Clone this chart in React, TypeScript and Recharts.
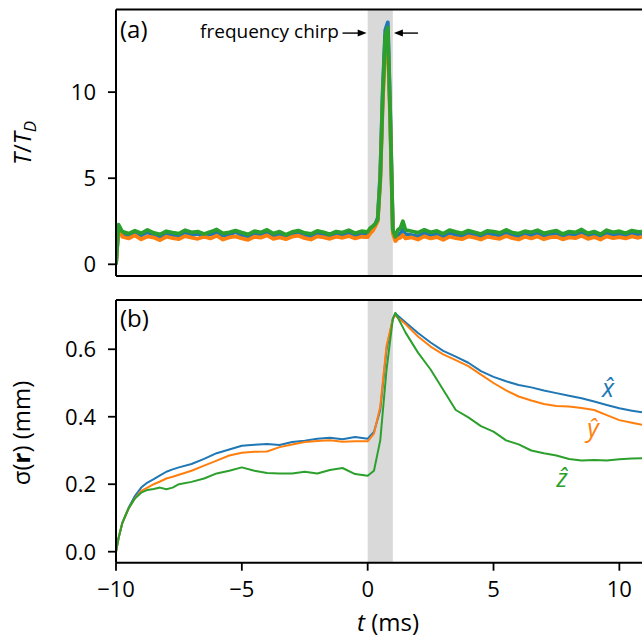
import { LineChart, Line, XAxis, YAxis, ReferenceArea, ReferenceLine } from 'recharts';

// panel (a): temperature ratio, sampled times (ms)
const tTop = [
  -10, -9.9, -9.75, -9.5, -9.25, -9, -8.75, -8.5, -8.25, -8,
  -7.75, -7.5, -7.25, -7, -6.75, -6.5, -6.25, -6, -5.75, -5.5,
  -5.25, -5, -4.75, -4.5, -4.25, -4, -3.75, -3.5, -3.25, -3,
  -2.75, -2.5, -2.25, -2, -1.75, -1.5, -1.25, -1, -0.75, -0.5,
  -0.25, 0, 0.1, 0.2, 0.3, 0.4, 0.5, 0.6, 0.7, 0.8,
  0.9, 1.0, 1.1, 1.2, 1.3, 1.4, 1.5, 1.75, 2, 2.25,
  2.5, 2.75, 3, 3.25, 3.5, 3.75, 4, 4.25, 4.5, 4.75,
  5, 5.25, 5.5, 5.75, 6, 6.25, 6.5, 6.75, 7, 7.25,
  7.5, 7.75, 8, 8.25, 8.5, 8.75, 9, 9.25, 9.5, 9.75,
  10, 10.25, 10.5, 10.75, 10.9,
];
const tempX = [
  0.0, 2.05, 1.72, 1.6, 1.82, 1.68, 1.86, 1.66, 1.58, 1.78,
  1.7, 1.64, 1.84, 1.7, 1.76, 1.6, 1.74, 1.82, 1.66, 1.72,
  1.88, 1.7, 1.62, 1.78, 1.7, 1.9, 1.66, 1.74, 1.6, 1.76,
  1.84, 1.7, 1.64, 1.8, 1.72, 1.62, 1.76, 1.7, 1.82, 1.66,
  1.78, 1.7, 2.0, 2.1, 2.3, 2.7, 5.2, 10.2, 13.6, 14.05,
  8.6, 2.0, 1.45, 1.7, 1.8, 2.0, 1.75, 1.7, 1.62, 1.8,
  1.68, 1.76, 1.6, 1.82, 1.7, 1.64, 1.78, 1.72, 1.6, 1.8,
  1.74, 1.66, 1.84, 1.7, 1.62, 1.76, 1.68, 1.8, 1.64, 1.72,
  1.78, 1.62, 1.74, 1.7, 1.86, 1.66, 1.76, 1.6, 1.8, 1.7,
  1.74, 1.66, 1.8, 1.72, 1.76,
];
const tempY = [
  0.0, 2.2, 1.6, 1.5, 1.68, 1.45, 1.62, 1.55, 1.4, 1.6,
  1.52, 1.46, 1.64, 1.55, 1.48, 1.6, 1.5, 1.66, 1.44, 1.56,
  1.62, 1.5, 1.42, 1.6, 1.55, 1.68, 1.48, 1.56, 1.46, 1.6,
  1.66, 1.52, 1.44, 1.62, 1.56, 1.48, 1.6, 1.54, 1.64, 1.5,
  1.6, 1.58, 1.8, 1.95, 2.2, 2.5, 4.8, 9.5, 12.6, 12.9,
  8.0, 1.8, 1.35, 1.5, 1.55, 1.7, 1.5, 1.56, 1.44, 1.62,
  1.5, 1.58, 1.42, 1.6, 1.52, 1.46, 1.62, 1.55, 1.44, 1.6,
  1.54, 1.48, 1.64, 1.52, 1.44, 1.6, 1.5, 1.62, 1.46, 1.56,
  1.6, 1.45, 1.56, 1.52, 1.66, 1.48, 1.58, 1.44, 1.62, 1.52,
  1.58, 1.5, 1.62, 1.54, 1.6,
];
const tempZ = [
  0.0, 2.3, 1.9, 1.78, 1.95, 1.8, 2.0, 1.82, 1.74, 1.92,
  1.84, 1.78, 1.98, 1.86, 1.9, 1.76, 1.88, 2.02, 1.8, 1.86,
  1.96, 1.84, 1.74, 1.92, 1.85, 2.0, 1.78, 1.9, 1.72, 1.88,
  1.96, 1.82, 1.76, 1.94, 1.86, 1.74, 1.9, 1.84, 1.98, 1.8,
  1.92, 1.88, 2.1, 2.2, 2.35, 2.6, 5.0, 9.8, 13.3, 13.75,
  8.3, 2.0, 1.6, 2.0, 2.1, 2.5, 2.0, 1.92, 1.84, 2.0,
  1.86, 1.94, 1.78, 1.98, 1.88, 1.8, 1.96, 1.86, 1.76, 1.94,
  1.9, 1.82, 2.0, 1.84, 1.78, 1.92, 1.86, 1.98, 1.8, 1.88,
  1.96, 1.76, 1.9, 1.85, 2.02, 1.8, 1.9, 1.74, 1.98, 1.86,
  1.92, 1.8, 1.96, 1.88, 1.9,
];

// panel (b): cloud size sigma(r) in mm
const tBot = [
  -10, -9.9, -9.75, -9.5, -9.25, -9, -8.75, -8.5, -8.25, -8,
  -7.75, -7.5, -7, -6.5, -6, -5.5, -5, -4.5, -4, -3.5,
  -3, -2.5, -2, -1.5, -1, -0.5, 0, 0.25, 0.5, 0.75,
  1.0, 1.1, 1.5, 2, 2.5, 3, 3.5, 4, 4.5, 5,
  5.5, 6, 6.5, 7, 7.5, 8, 8.5, 9, 9.5, 10,
  10.5, 10.9,
];
const sigX = [
  0.0, 0.04, 0.085, 0.13, 0.165, 0.19, 0.205, 0.215, 0.226, 0.237,
  0.244, 0.25, 0.26, 0.275, 0.292, 0.303, 0.314, 0.317, 0.319, 0.316,
  0.325, 0.329, 0.335, 0.338, 0.333, 0.34, 0.335, 0.355, 0.42, 0.6,
  0.69, 0.706, 0.68, 0.648, 0.62, 0.595, 0.578, 0.56, 0.535, 0.518,
  0.505, 0.494, 0.487, 0.478, 0.47, 0.462, 0.455, 0.445, 0.435, 0.425,
  0.418, 0.413,
];
const sigY = [
  0.0, 0.04, 0.085, 0.128, 0.158, 0.18, 0.19, 0.2, 0.208, 0.217,
  0.222, 0.228, 0.24, 0.255, 0.27, 0.285, 0.293, 0.296, 0.297, 0.31,
  0.318, 0.325, 0.328, 0.33, 0.326, 0.327, 0.327, 0.35, 0.43, 0.61,
  0.69, 0.7, 0.675, 0.638, 0.608, 0.585, 0.568, 0.55, 0.525, 0.5,
  0.478, 0.46, 0.448, 0.438, 0.432, 0.43, 0.426, 0.42, 0.405, 0.39,
  0.382, 0.376,
];
const sigZ = [
  0.0, 0.04, 0.085, 0.128, 0.158, 0.175, 0.183, 0.186, 0.19, 0.185,
  0.19, 0.2, 0.207, 0.217, 0.232, 0.24, 0.25, 0.24, 0.233, 0.232,
  0.232, 0.237, 0.232, 0.242, 0.248, 0.23, 0.225, 0.24, 0.33, 0.54,
  0.69, 0.708, 0.65, 0.59, 0.54, 0.48, 0.42, 0.398, 0.372, 0.356,
  0.33, 0.318, 0.3, 0.292, 0.285, 0.275, 0.27, 0.272, 0.27, 0.274,
  0.276, 0.277,
];

const xTicks = [-10, -5, 0, 5, 10];
const topTicks = [0, 5, 10];
const botTicks = [0, 0.2, 0.4, 0.6];

const BLUE = '#1f77b4';
const ORANGE = '#ff7f0e';
const GREEN = '#2ca02c';
const FONT = '"Open Sans", sans-serif';

const topData = tTop.map((t, i) => ({ t, x: tempX[i], y: tempY[i], z: tempZ[i] }));
const botData = tBot.map((t, i) => ({ t, x: sigX[i], y: sigY[i], z: sigZ[i] }));

const axisLine = { stroke: '#000', strokeWidth: 2 };
const tickLine = { stroke: '#000', strokeWidth: 1.8 };
const tickFont = { fill: '#000', fontSize: 22, fontFamily: FONT };
const fmtX = (v: number) => (v < 0 ? '\u2212' + Math.abs(v) : String(v));

const Arrow = (props: any) => {
  const { x1, y1, x2, y2 } = props;
  const d = Math.sign(x2 - x1);
  return (
    <g>
      <line x1={x1} y1={y1} x2={x2 - d * 7} y2={y2} stroke="#000" strokeWidth={1.4} />
      <polygon points={`${x2},${y2} ${x2 - d * 9},${y2 - 3.5} ${x2 - d * 9},${y2 + 3.5}`} fill="#000" />
    </g>
  );
};

function TopPanel() {
  return (
    <LineChart width={642} height={290} data={topData} margin={{ top: 8.5, right: 0, left: 0, bottom: 0 }}>
      <ReferenceArea x1={0} x2={1} fill="#d9d9d9" fillOpacity={1} stroke="none" />
      <XAxis type="number" dataKey="t" domain={[-10, 10.9]} ticks={xTicks} allowDataOverflow interval={0}
        height={14} tick={false} tickSize={8} axisLine={axisLine} tickLine={tickLine} />
      <XAxis xAxisId="top" orientation="top" type="number" dataKey="t" domain={[-10, 10.9]} allowDataOverflow
        height={1} tick={false} tickLine={false} axisLine={axisLine} />
      <YAxis type="number" domain={[-0.68, 14.8]} ticks={topTicks} allowDataOverflow interval={0}
        width={116} tickSize={8} tickMargin={12} tick={tickFont} axisLine={axisLine} tickLine={tickLine} />
      <Line dataKey="x" stroke={BLUE} strokeWidth={3.8} dot={false} isAnimationActive={false} strokeLinejoin="round" />
      <Line dataKey="y" stroke={ORANGE} strokeWidth={3.8} dot={false} isAnimationActive={false} strokeLinejoin="round" />
      <Line dataKey="z" stroke={GREEN} strokeWidth={3.8} dot={false} isAnimationActive={false} strokeLinejoin="round" />
      <ReferenceLine segment={[{ x: -1.0, y: 13.43 }, { x: -0.04, y: 13.43 }]} shape={Arrow} />
      <ReferenceLine segment={[{ x: 2.0, y: 13.43 }, { x: 1.04, y: 13.43 }]} shape={Arrow} />
      <text x={120} y={38} fontSize={24} fontFamily={FONT} fill="#000">(a)</text>
      <text x={339} y={38} fontSize={19} fontFamily={FONT} fill="#000" textAnchor="end">frequency chirp</text>
      <text transform="translate(31,143) rotate(-90)" fontSize={24} fontFamily={FONT} fill="#000" textAnchor="middle">
        <tspan fontStyle="italic">T</tspan>/<tspan fontStyle="italic">T</tspan>
        <tspan fontStyle="italic" fontSize={17} dy={5}>D</tspan>
      </text>
    </LineChart>
  );
}

function BottomPanel() {
  return (
    <LineChart width={642} height={347} data={botData} margin={{ top: 9, right: 0, left: 0, bottom: 0 }}>
      <ReferenceArea x1={0} x2={1} fill="#d9d9d9" fillOpacity={1} stroke="none" />
      <XAxis type="number" dataKey="t" domain={[-10, 10.9]} ticks={xTicks} allowDataOverflow interval={0}
        height={74.3} tickSize={8} tickMargin={11} tick={tickFont} tickFormatter={fmtX}
        axisLine={axisLine} tickLine={tickLine} />
      <XAxis xAxisId="top" orientation="top" type="number" dataKey="t" domain={[-10, 10.9]} allowDataOverflow
        height={1} tick={false} tickLine={false} axisLine={axisLine} />
      <YAxis type="number" domain={[-0.0326, 0.746]} ticks={botTicks} allowDataOverflow interval={0}
        width={116} tickSize={8} tickMargin={12} tick={tickFont} tickFormatter={(v: number) => v.toFixed(1)}
        axisLine={axisLine} tickLine={tickLine} />
      <Line dataKey="x" stroke={BLUE} strokeWidth={2} dot={false} isAnimationActive={false} strokeLinejoin="round" />
      <Line dataKey="y" stroke={ORANGE} strokeWidth={2} dot={false} isAnimationActive={false} strokeLinejoin="round" />
      <Line dataKey="z" stroke={GREEN} strokeWidth={2} dot={false} isAnimationActive={false} strokeLinejoin="round" />
      <text x={120} y={37} fontSize={24} fontFamily={FONT} fill="#000">(b)</text>
      <text x={608} y={107} fontSize={25} fontFamily={FONT} fontStyle="italic" fill={BLUE} textAnchor="middle">x&#770;</text>
      <text x={593} y={147} fontSize={25} fontFamily={FONT} fontStyle="italic" fill={ORANGE} textAnchor="middle">y&#770;</text>
      <text x={562} y={197} fontSize={25} fontFamily={FONT} fontStyle="italic" fill={GREEN} textAnchor="middle">z&#770;</text>
      <text transform="translate(30,143) rotate(-90)" fontSize={24} fontFamily={FONT} fill="#000" textAnchor="middle">
        σ(<tspan fontWeight="bold">r</tspan>) (mm)
      </text>
      <text x={388} y={341} fontSize={24} fontFamily={FONT} fill="#000" textAnchor="middle">
        <tspan fontStyle="italic">t</tspan> (ms)
      </text>
    </LineChart>
  );
}

export default function App() {
  return (
    <div style={{ position: 'absolute', left: 0, top: 0, width: 642, height: 637, background: '#fff', overflow: 'hidden' }}>
      <div style={{ position: 'absolute', left: 0, top: 0 }}>
        <TopPanel />
      </div>
      <div style={{ position: 'absolute', left: 0, top: 290 }}>
        <BottomPanel />
      </div>
    </div>
  );
}
